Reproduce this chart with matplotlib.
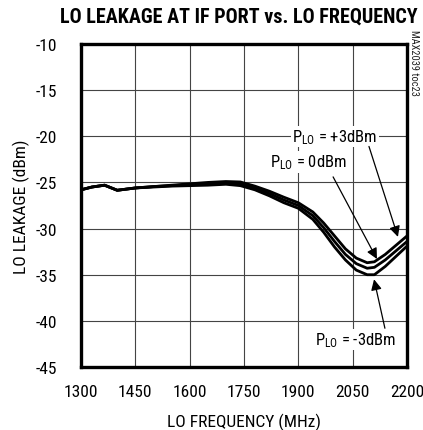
import matplotlib
matplotlib.use("Agg")
import matplotlib.pyplot as plt

plt.rcParams['font.family'] = ['Roboto Condensed', 'DejaVu Sans']
plt.rcParams['mathtext.fontset'] = 'custom'
plt.rcParams['mathtext.rm'] = 'Roboto Condensed'
plt.rcParams['mathtext.it'] = 'Roboto Condensed'

# LO frequency (MHz)
freq = [1300, 1330, 1365, 1400, 1450, 1500, 1550, 1600, 1650, 1700, 1740,
        1780, 1820, 1860, 1900, 1940, 1970, 2000, 2030, 2060, 2090, 2110,
        2140, 2170, 2200]
# LO leakage (dBm) for PLO = +3, 0, -3 dBm
leak_p3 = [-25.8, -25.5, -25.3, -25.85, -25.6, -25.45, -25.3, -25.15, -25.0,
           -24.9, -24.95, -25.4, -25.95, -26.6, -27.2, -28.2, -29.4, -30.8,
           -32.2, -33.2, -33.7, -33.6, -32.8, -31.8, -30.8]
leak_0 = [-25.8, -25.5, -25.3, -25.85, -25.6, -25.45, -25.35, -25.25, -25.15,
          -25.05, -25.15, -25.6, -26.2, -26.9, -27.5, -28.6, -29.9, -31.4,
          -32.8, -33.8, -34.3, -34.2, -33.4, -32.4, -31.4]
leak_m3 = [-25.8, -25.5, -25.3, -25.85, -25.6, -25.5, -25.4, -25.35, -25.3,
           -25.2, -25.35, -25.8, -26.45, -27.2, -27.8, -29.0, -30.4, -32.0,
           -33.4, -34.5, -35.0, -35.0, -34.1, -33.0, -31.9]

xticks = [1300, 1450, 1600, 1750, 1900, 2050, 2200]
yticks = [-45, -40, -35, -30, -25, -20, -15, -10]

fig = plt.figure(figsize=(4.23, 4.31), dpi=100)
ax = fig.add_axes([81/423, 1 - 368/431, 326/423, 323/431])

for s in (leak_p3, leak_0, leak_m3):
    ax.plot(freq, s, color='black', lw=2.0, solid_capstyle='round', zorder=3)

ax.set_xlim(1300, 2200)
ax.set_ylim(-45, -10)
ax.set_xticks(xticks)
ax.set_yticks(yticks)
ax.set_xticklabels([str(t) for t in xticks])
ax.set_yticklabels([str(t) for t in yticks])
ax.tick_params(length=0, labelsize=12.5, pad=12)
ax.tick_params(axis='y', pad=17)
ax.grid(True, color='#444444', lw=0.8)
for sp in ax.spines.values():
    sp.set_linewidth(2.4)
    sp.set_zorder(5)

ax.set_xlabel('LO FREQUENCY (MHz)', fontsize=12.5, labelpad=10)
ax.set_ylabel('LO LEAKAGE (dBm)', fontsize=12.5, labelpad=4)

fig.text(60/423, 1 - 23/431, 'LO LEAKAGE AT IF PORT vs. LO FREQUENCY',
         fontsize=14.5, fontweight='bold', ha='left', va='baseline')
fig.text(414/423, 1 - 30/431, 'MAX2039 toc23', fontsize=7.5, rotation=270,
         ha='center', va='top', color='#222222')

box = dict(facecolor='white', edgecolor='none', pad=1)
arrow = dict(arrowstyle='-|>', color='black', lw=0.9, mutation_scale=16,
             shrinkA=0, shrinkB=0)
ax.text(2001, -20, r'P$_{\mathrm{LO}}$ = +3dBm', fontsize=12, ha='center',
        va='center', bbox=box, zorder=4)
ax.text(1929, -22.8, r'P$_{\mathrm{LO}}$ = 0dBm', fontsize=12, ha='center',
        va='center', bbox=box, zorder=4)
ax.text(2057, -42, r'P$_{\mathrm{LO}}$ = -3dBm', fontsize=12, ha='center',
        va='center', bbox=box, zorder=4)
ax.annotate('', xy=(2175, -30.9), xytext=(2095, -21.1), arrowprops=arrow, zorder=4)
ax.annotate('', xy=(2117, -33.3), xytext=(1996, -24.4), arrowprops=arrow, zorder=4)
ax.annotate('', xy=(2109, -35.5), xytext=(2139, -40.8), arrowprops=arrow, zorder=4)

fig.savefig('out.png', dpi=100)
